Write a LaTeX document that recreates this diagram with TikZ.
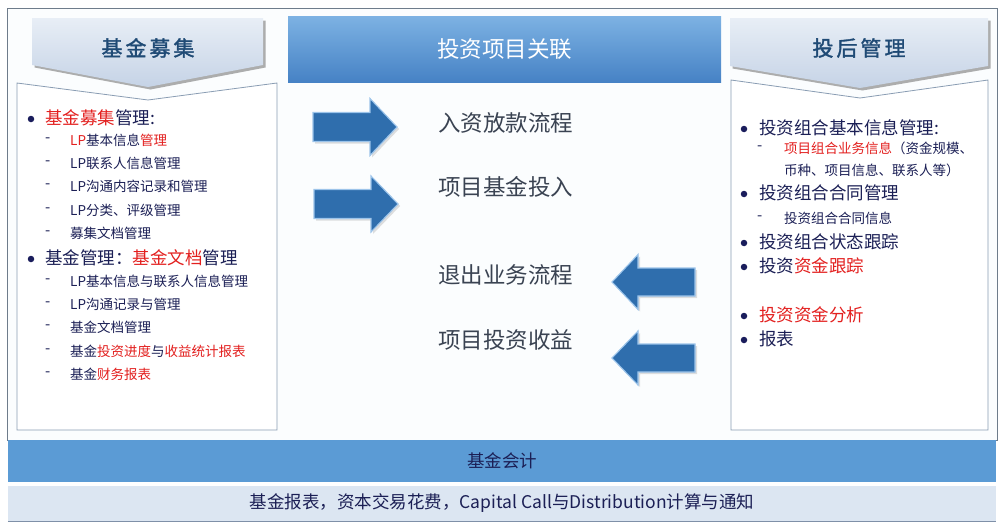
\documentclass[tikz,border=0pt]{standalone}
\usepackage{fontspec}
\setmainfont[AutoFakeBold=1.6]{Noto Sans CJK SC}
\usetikzlibrary{shadows}
\definecolor{navy}{HTML}{1B1F55}
\definecolor{redt}{HTML}{E3201F}
\definecolor{midtext}{HTML}{3A4352}
\definecolor{headtext}{HTML}{1F4A75}
\definecolor{framec}{HTML}{6E7C8B}
\definecolor{framefill}{HTML}{FBFDFE}
\definecolor{panelc}{HTML}{8A9DB3}
\definecolor{chevtop}{HTML}{E8EEF6}
\definecolor{chevbot}{HTML}{C5D3E6}
\definecolor{hdtop}{HTML}{7DB2E3}
\definecolor{hdbot}{HTML}{4682C5}
\definecolor{arrowblue}{HTML}{2F6EAD}
\definecolor{arrowedge}{HTML}{9CC4EA}
\definecolor{bandblue}{HTML}{5B9BD5}
\definecolor{lightband}{HTML}{DCE6F2}
\definecolor{bandline}{HTML}{7F90A8}
\definecolor{bulc}{HTML}{1A1D5C}
\begin{document}
\begin{tikzpicture}[x=1pt,y=-1pt,
  midlbl/.style={anchor=west, inner sep=0, font=\fontsize{22.5}{27}\selectfont, text=midtext},
  biglbl/.style={anchor=west, inner sep=0, font=\fontsize{17.5}{21}\selectfont, text=navy},
  smalllbl/.style={anchor=west, inner sep=0, font=\fontsize{13.5}{16}\selectfont, text=navy},
  dashmark/.style={anchor=west, inner sep=0, font=\fontsize{15}{16}\selectfont, text=navy},
  bul/.style={circle, fill=bulc, inner sep=0, minimum size=6.5},
  chev/.style={top color=chevtop, bottom color=chevbot, draw=none,
     drop shadow={opacity=0.45, shadow xshift=2.5pt, shadow yshift=-2.5pt, fill=black!70}},
  chevtext/.style={inner sep=0, font=\fontsize{21}{25}\selectfont\bfseries, text=headtext},
  panel/.style={draw=panelc, line width=0.8pt, fill=white},
  arrowshape/.style={fill=arrowblue, draw=arrowedge, line width=1.1pt, line join=miter,
     drop shadow={opacity=0.25, shadow xshift=2pt, shadow yshift=-2pt}}
]
\useasboundingbox (0,0) rectangle (1004,530);
\fill[white] (0,0) rectangle (1004,530);
% outer frame
\draw[framec, line width=0.9pt, fill=framefill] (7,8) rectangle (997,440);

% left panel
\path[panel] (17,83) -- (148,100) -- (277,83) -- (277,430) -- (17,430) -- cycle;
\path[chev] (32,18) -- (263,18) -- (263,65) -- (148,87) -- (32,65) -- cycle;
\node[chevtext] (lh) at (148,48) {基\hspace{3pt}金\hspace{3pt}募\hspace{3pt}集};

% right panel
\path[panel] (731,80) -- (860,98) -- (988,80) -- (988,430) -- (731,430) -- cycle;
\path[chev] (730,18) -- (988,18) -- (988,66) -- (860,88) -- (730,66) -- cycle;
\node[chevtext] (rh) at (859,48) {投\hspace{3pt}后\hspace{3pt}管\hspace{3pt}理};

% middle header
\node[minimum width=433, minimum height=66, inner sep=0, top color=hdtop, bottom color=hdbot,
      text=white, font=\fontsize{22.5}{27}\selectfont] (mh) at (504.5,49) {投资项目关联};

% arrows
\path[arrowshape] (313,112.5) -- (370,112.5) -- (370,98.5) -- (397,127) -- (370,155.5) -- (370,141.5) -- (313,141.5) -- cycle;
\path[arrowshape] (314,189.5) -- (371,189.5) -- (371,176) -- (398,204) -- (371,232) -- (371,218.5) -- (314,218.5) -- cycle;
\path[arrowshape] (612,282) -- (638,254.5) -- (638,268) -- (695,268) -- (695,296) -- (638,296) -- (638,309.5) -- cycle;
\path[arrowshape] (612,358) -- (638,331) -- (638,344) -- (695,344) -- (695,372) -- (638,372) -- (638,385) -- cycle;

% middle labels
\node[midlbl] (m1) at (438,123) {入资放款流程};
\node[midlbl] (m2) at (438,187) {项目基金投入};
\node[midlbl] (m3) at (438,275) {退出业务流程};
\node[midlbl] (m4) at (438,340) {项目投资收益};

% left list
\node[bul] (lb1) at (31,119) {};
\node[biglbl] (l1) at (45,118) {\textcolor{redt}{基金募集}管理:};
\node[dashmark] (ld1) at (45,140) {-};
\node[smalllbl] (l11) at (70,140) {\textcolor{redt}{LP}基本信息\textcolor{redt}{管理}};
\node[dashmark] (ld2) at (45,163) {-};
\node[smalllbl] (l12) at (70,163) {LP联系人信息管理};
\node[dashmark] (ld3) at (45,186) {-};
\node[smalllbl] (l13) at (70,186) {LP沟通内容记录和管理};
\node[dashmark] (ld4) at (45,210) {-};
\node[smalllbl] (l14) at (70,210) {LP分类、评级管理};
\node[dashmark] (ld5) at (45,233) {-};
\node[smalllbl] (l15) at (70,233) {募集文档管理};
\node[bul] (lb2) at (31,259) {};
\node[biglbl] (l2) at (45,258) {基金管理：\textcolor{redt}{基金文档}管理};
\node[dashmark] (ld6) at (45,281) {-};
\node[smalllbl] (l21) at (70,281) {LP基本信息与联系人信息管理};
\node[dashmark] (ld7) at (45,304) {-};
\node[smalllbl] (l22) at (70,304) {LP沟通记录与管理};
\node[dashmark] (ld8) at (45,327) {-};
\node[smalllbl] (l23) at (70,327) {基金文档管理};
\node[dashmark] (ld9) at (45,351) {-};
\node[smalllbl] (l24) at (70,351) {基金\textcolor{redt}{投资进度}与\textcolor{redt}{收益统计报表}};
\node[dashmark] (ld10) at (45,374) {-};
\node[smalllbl] (l25) at (70,374) {基金\textcolor{redt}{财务报表}};

% right list
\node[bul] (rb1) at (744,129) {};
\node[biglbl] (r1) at (759,128) {投资组合基本信息管理:};
\node[dashmark] (rd1) at (757,148) {-};
\node[smalllbl] (r11) at (784,148) {\textcolor{redt}{项目组合业务信息}（资金规模、};
\node[smalllbl] (r12) at (784,170) {币种、项目信息、联系人等）};
\node[bul] (rb2) at (744,194) {};
\node[biglbl] (r2) at (759,193) {投资组合合同管理};
\node[dashmark] (rd2) at (757,218) {-};
\node[smalllbl] (r21) at (784,218) {投资组合合同信息};
\node[bul] (rb3) at (744,243) {};
\node[biglbl] (r3) at (759,242) {投资组合状态跟踪};
\node[bul] (rb4) at (744,267) {};
\node[biglbl] (r4) at (759,266) {投资\textcolor{redt}{资金跟踪}};
\node[bul] (rb5) at (744,316) {};
\node[biglbl] (r5) at (759,315) {\textcolor{redt}{投资资金分析}};
\node[bul] (rb6) at (744,340) {};
\node[biglbl] (r6) at (759,339) {报表};

% bottom bands
\node[fill=bandblue, minimum width=988, minimum height=42, inner sep=0,
      text=navy, font=\fontsize{17.5}{20}\selectfont] (acc) at (502,461) {基金会计};
\node[fill=lightband, minimum width=988, minimum height=35, inner sep=0,
      text=navy, font=\fontsize{17.5}{19}\selectfont] (rep) at (502,503.5) {基金报表，资本交易花费，Capital Call与Distribution计算与通知};
\draw[bandline, line width=1pt] (rep.south west) -- (rep.south east);
\end{tikzpicture}
\end{document}
